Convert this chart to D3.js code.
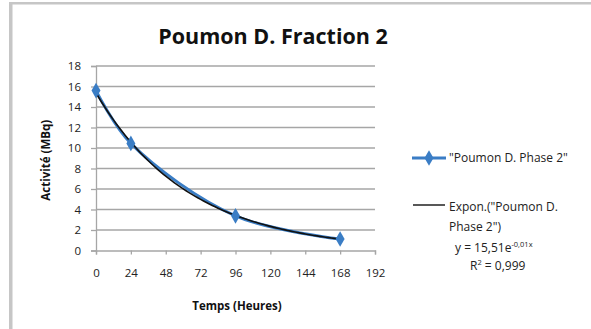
<!DOCTYPE html>
<html>
<head>
<meta charset="utf-8">
<script src="https://cdn.jsdelivr.net/npm/d3@7"></script>
<style>
  html, body { margin: 0; padding: 0; background: #fff; }
  svg { display: block; font-family: "Open Sans", "Liberation Sans", sans-serif; }
</style>
</head>
<body>
<svg id="chart" width="591" height="329"></svg>
<script>
// Mesures : activité du poumon droit, phase 2
const hours = [0, 24, 96, 168];
const activity = [15.6, 10.45, 3.38, 1.12];
const xTicks = [0, 24, 48, 72, 96, 120, 144, 168, 192];
const yTicks = [0, 2, 4, 6, 8, 10, 12, 14, 16, 18];
const seriesName = '"Poumon D. Phase 2"';
const trendName = ['Expon.("Poumon D.', 'Phase 2")'];

const svg = d3.select("#chart");
const blue = "#3a7dc5";
const gridGrey = "#a6a6a6";

// Cadre du graphique (bords gauche et haut)
svg.append("rect").attr("x", 9).attr("y", 2).attr("width", 3.5).attr("height", 327).attr("fill", "#c6c6c6");
svg.append("rect").attr("x", 11).attr("y", 2).attr("width", 580).attr("height", 2.5).attr("fill", "#c6c6c6");

const x = d3.scaleLinear().domain([0, 192]).range([96, 375]);
const y = d3.scaleLinear().domain([0, 18]).range([250.5, 66]);

// Titre
svg.append("text").attr("x", 273).attr("y", 44).attr("text-anchor", "middle")
  .attr("font-size", 21.5).attr("font-weight", "bold").attr("fill", "#111")
  .text("Poumon D. Fraction 2");

// Quadrillage horizontal
svg.append("g").selectAll("line").data(yTicks.filter(d => d > 0)).join("line")
  .attr("x1", x(0)).attr("x2", x(192))
  .attr("y1", d => y(d)).attr("y2", d => y(d))
  .attr("stroke", gridGrey).attr("stroke-width", 1.3);

// Axes
const yAxis = svg.append("g").attr("transform", `translate(${x(0)},0)`)
  .call(d3.axisLeft(y).tickValues(yTicks).tickSize(5).tickPadding(10));
const xAxis = svg.append("g").attr("transform", `translate(0,${y(0)})`)
  .call(d3.axisBottom(x).tickValues(xTicks).tickSize(4).tickPadding(14));
[yAxis, xAxis].forEach(g => {
  g.select(".domain").attr("stroke", gridGrey).attr("stroke-width", 1.3);
  g.selectAll(".tick line").attr("stroke", gridGrey).attr("stroke-width", 1.3);
  g.selectAll("text").attr("font-size", 11.5).attr("fill", "#222")
    .attr("font-family", '"Open Sans", "Liberation Sans", sans-serif');
});

// Titres des axes
svg.append("text").attr("transform", `translate(50,${(y(0) + y(18)) / 2 + 2}) rotate(-90)`)
  .attr("text-anchor", "middle").attr("font-size", 11.5).attr("font-weight", "bold").attr("fill", "#111")
  .text("Activité (MBq)");
svg.append("text").attr("x", 237).attr("y", 310).attr("text-anchor", "middle")
  .attr("font-size", 11.5).attr("font-weight", "bold").attr("fill", "#111")
  .text("Temps (Heures)");

// Série mesurée (ligne lissée + marqueurs)
const pts = hours.map((h, i) => [h, activity[i]]);
svg.append("path").datum(pts)
  .attr("d", d3.line().x(d => x(d[0])).y(d => y(d[1])).curve(d3.curveCatmullRom.alpha(0.5)))
  .attr("fill", "none").attr("stroke", blue).attr("stroke-width", 3);

// Courbe de tendance exponentielle (moindres carrés sur ln y)
const lnY = activity.map(Math.log);
const mx = d3.mean(hours), my = d3.mean(lnY);
const k = d3.sum(hours, (h, i) => (h - mx) * (lnY[i] - my)) / d3.sum(hours, h => (h - mx) ** 2);
const a = Math.exp(my - k * mx);
const trendPts = d3.range(0, 168.01, 2).map(t => [t, a * Math.exp(k * t)]);
svg.append("path").datum(trendPts)
  .attr("d", d3.line().x(d => x(d[0])).y(d => y(d[1])))
  .attr("fill", "none").attr("stroke", "#111").attr("stroke-width", 1.6);

const diamond = d3.symbol().type(d3.symbolDiamond).size(70);
svg.append("g").selectAll("path").data(pts).join("path")
  .attr("transform", d => `translate(${x(d[0])},${y(d[1])})`)
  .attr("d", diamond).attr("fill", blue);

// Légende
const lg = svg.append("g");
lg.append("line").attr("x1", 412).attr("x2", 446).attr("y1", 158).attr("y2", 158)
  .attr("stroke", blue).attr("stroke-width", 3);
lg.append("path").attr("transform", "translate(429,158)").attr("d", diamond).attr("fill", blue);
lg.append("text").attr("x", 449).attr("y", 162).attr("font-size", 12).attr("fill", "#222").text(seriesName);

lg.append("line").attr("x1", 413).attr("x2", 445).attr("y1", 205).attr("y2", 205)
  .attr("stroke", "#111").attr("stroke-width", 1.4);
trendName.forEach((t, i) => {
  lg.append("text").attr("x", 449).attr("y", 211 + i * 20).attr("font-size", 12).attr("fill", "#222").text(t);
});

// Équation et coefficient de détermination
const eq = lg.append("text").attr("x", 455).attr("y", 252).attr("font-size", 12).attr("fill", "#222");
eq.append("tspan").text("y = 15,51e");
eq.append("tspan").attr("dy", -5).attr("font-size", 7.5).text("-0,01x");
const r2 = lg.append("text").attr("x", 470).attr("y", 270).attr("font-size", 12).attr("fill", "#222");
r2.append("tspan").text("R");
r2.append("tspan").attr("dy", -5).attr("font-size", 7.5).text("2");
r2.append("tspan").attr("dy", 5).text(" = 0,999");
</script>
</body>
</html>
